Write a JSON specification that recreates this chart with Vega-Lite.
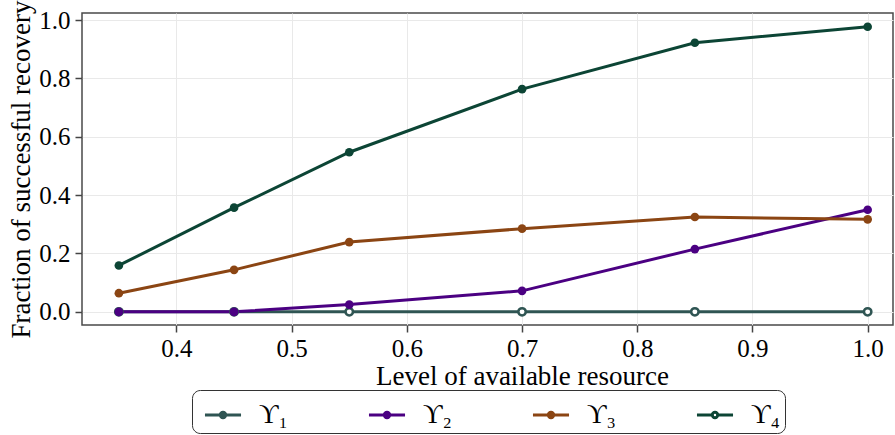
{
  "$schema": "https://vega.github.io/schema/vega-lite/v6.json",
  "width": 811,
  "height": 312,
  "autosize": {"type": "none"},
  "padding": {"left": 82, "top": 13, "right": 2, "bottom": 110},
  "background": "white",
  "config": {
    "view": {"stroke": "#4a4a4a", "strokeWidth": 1.5},
    "font": "Liberation Serif",
    "axis": {
      "labelFont": "Liberation Serif",
      "titleFont": "Liberation Serif",
      "labelFontSize": 25,
      "titleFontSize": 27,
      "titleFontWeight": "normal",
      "labelColor": "#000000",
      "titleColor": "#000000",
      "domain": false,
      "gridColor": "#e9e9e9",
      "gridWidth": 1,
      "tickColor": "#444444",
      "tickWidth": 1.5,
      "tickSize": 7
    },
    "legend": {
      "title": null,
      "orient": "none",
      "legendX": 110,
      "legendY": 377,
      "direction": "horizontal",
      "columns": 4,
      "columnPadding": 73,
      "symbolType": "M-1,0H-0.15M0.15,0H1M-0.15,0A0.15,0.15,0,1,0,0.15,0A0.15,0.15,0,1,0,-0.15,0Z",
      "symbolSize": 1300,
      "symbolStrokeWidth": 3,
      "symbolOffset": 6,
      "labelFont": "Liberation Serif",
      "labelFontSize": 27,
      "labelColor": "#000000",
      "labelOffset": 16,
      "padding": 5,
      "strokeColor": "#333333",
      "cornerRadius": 8
    }
  },
  "data": {
    "values": [
      {"x": 0.35, "y": 0, "s": "ϒ₁"},
      {"x": 0.45, "y": 0, "s": "ϒ₁"},
      {"x": 0.55, "y": 0, "s": "ϒ₁"},
      {"x": 0.7, "y": 0, "s": "ϒ₁"},
      {"x": 0.85, "y": 0, "s": "ϒ₁"},
      {"x": 1.0, "y": 0, "s": "ϒ₁"},
      {"x": 0.35, "y": 0, "s": "ϒ₂"},
      {"x": 0.45, "y": 0, "s": "ϒ₂"},
      {"x": 0.55, "y": 0.025, "s": "ϒ₂"},
      {"x": 0.7, "y": 0.072, "s": "ϒ₂"},
      {"x": 0.85, "y": 0.215, "s": "ϒ₂"},
      {"x": 1.0, "y": 0.35, "s": "ϒ₂"},
      {"x": 0.35, "y": 0.064, "s": "ϒ₃"},
      {"x": 0.45, "y": 0.144, "s": "ϒ₃"},
      {"x": 0.55, "y": 0.239, "s": "ϒ₃"},
      {"x": 0.7, "y": 0.285, "s": "ϒ₃"},
      {"x": 0.85, "y": 0.325, "s": "ϒ₃"},
      {"x": 1.0, "y": 0.317, "s": "ϒ₃"},
      {"x": 0.35, "y": 0.159, "s": "ϒ₄"},
      {"x": 0.45, "y": 0.357, "s": "ϒ₄"},
      {"x": 0.55, "y": 0.547, "s": "ϒ₄"},
      {"x": 0.7, "y": 0.763, "s": "ϒ₄"},
      {"x": 0.85, "y": 0.922, "s": "ϒ₄"},
      {"x": 1.0, "y": 0.977, "s": "ϒ₄"}
    ]
  },
  "encoding": {
    "x": {
      "field": "x",
      "type": "quantitative",
      "scale": {"domain": [0.318, 1.022], "nice": false, "zero": false},
      "axis": {
        "values": [0.4, 0.5, 0.6, 0.7, 0.8, 0.9, 1.0],
        "format": ".1f",
        "title": "Level of available resource",
        "labelPadding": 4,
        "titlePadding": 2,
        "titleX": 440,
        "titleAnchor": "middle"
      }
    },
    "y": {
      "field": "y",
      "type": "quantitative",
      "scale": {"domain": [-0.045, 1.024], "nice": false, "zero": false},
      "axis": {
        "values": [0, 0.2, 0.4, 0.6, 0.8, 1.0],
        "format": ".1f",
        "title": "Fraction of successful recovery",
        "labelPadding": 5,
        "titlePadding": 3
      }
    }
  },
  "layer": [
    {
      "mark": {"type": "line", "strokeWidth": 3},
      "encoding": {
        "color": {
          "field": "s",
          "type": "nominal",
          "title": null,
          "scale": {
            "domain": ["ϒ₁", "ϒ₂", "ϒ₃", "ϒ₄"],
            "range": ["#2f5553", "#4b0082", "#8b4513", "#0c4535"]
          }
        }
      }
    },
    {
      "transform": [{"filter": "datum.x > 5"}],
      "mark": {"type": "point", "filled": true, "opacity": 1},
      "encoding": {
        "fill": {
          "field": "s",
          "type": "nominal",
          "title": null,
          "scale": {
            "domain": ["ϒ₁", "ϒ₂", "ϒ₃", "ϒ₄"],
            "range": ["#2f5553", "#4b0082", "#8b4513", "#ffffff"]
          }
        }
      }
    },
    {
      "transform": [{"filter": "datum.s === 'ϒ₁'"}],
      "mark": {"type": "point", "filled": false, "fill": "#ffffff", "stroke": "#2f5553", "size": 55, "strokeWidth": 2.5, "opacity": 1},
      "encoding": {}
    },
    {
      "transform": [{"filter": "datum.s === 'ϒ₂'"}],
      "mark": {"type": "point", "filled": true, "color": "#4b0082", "size": 75, "opacity": 1},
      "encoding": {}
    },
    {
      "transform": [{"filter": "datum.s === 'ϒ₃'"}],
      "mark": {"type": "point", "filled": true, "color": "#8b4513", "size": 75, "opacity": 1},
      "encoding": {}
    },
    {
      "transform": [{"filter": "datum.s === 'ϒ₄'"}],
      "mark": {"type": "point", "filled": true, "color": "#0c4535", "size": 75, "opacity": 1},
      "encoding": {}
    }
  ]
}
